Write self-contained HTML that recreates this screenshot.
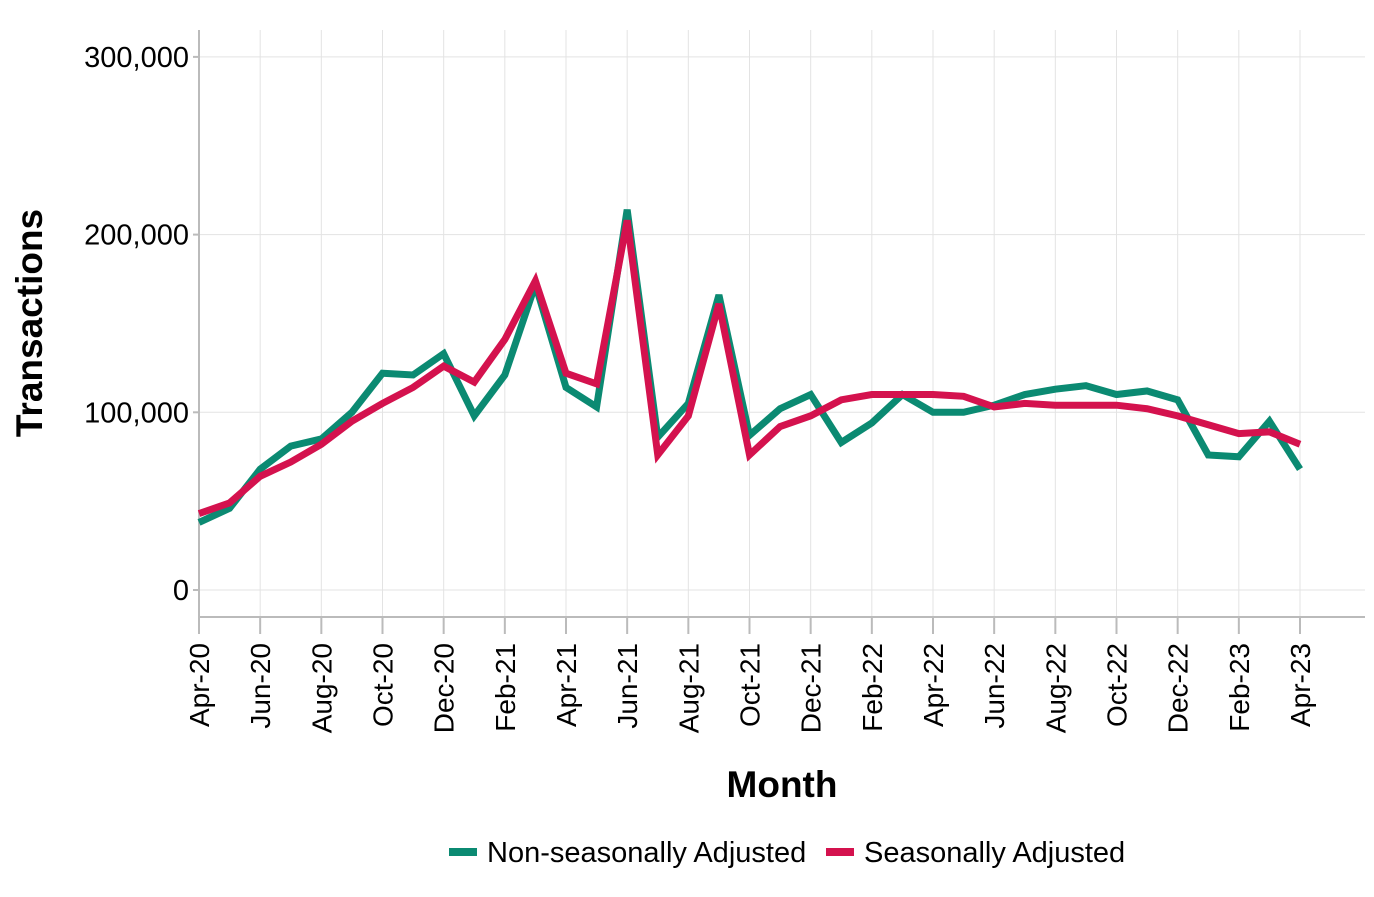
<!DOCTYPE html>
<html><head><meta charset="utf-8"><style>
body{margin:0;background:#fff;font-family:"Liberation Sans",Arial,sans-serif}
svg text{font-family:"Liberation Sans",Arial,sans-serif}
</style></head><body>
<svg id="chart" width="1374" height="892" viewBox="0 0 1374 892" xmlns="http://www.w3.org/2000/svg">
<g id="grid"></g>
<g id="axes"></g>
<g id="series"></g>
<text x="42" y="323" transform="rotate(-90 42 323)" text-anchor="middle" font-size="37" font-weight="bold" fill="#000">Transactions</text>
<text x="782" y="797" text-anchor="middle" font-size="37" font-weight="bold" fill="#000">Month</text>
<g>
<rect x="449" y="848" width="28" height="8" fill="#0b8a72"/>
<text x="487" y="862" font-size="29" fill="#000">Non-seasonally Adjusted</text>
<rect x="826" y="848" width="28" height="8" fill="#d4124e"/>
<text x="864" y="862" font-size="29" fill="#000">Seasonally Adjusted</text>
</g>
</svg>
<script>
const months=["Apr-20","May-20","Jun-20","Jul-20","Aug-20","Sep-20","Oct-20","Nov-20","Dec-20","Jan-21","Feb-21","Mar-21","Apr-21","May-21","Jun-21","Jul-21","Aug-21","Sep-21","Oct-21","Nov-21","Dec-21","Jan-22","Feb-22","Mar-22","Apr-22","May-22","Jun-22","Jul-22","Aug-22","Sep-22","Oct-22","Nov-22","Dec-22","Jan-23","Feb-23","Mar-23","Apr-23"];
const nsaValues=[38000,46000,68000,81000,85000,100000,122000,121000,133000,98000,121000,172000,114000,103000,214000,86000,105000,166000,87000,102000,110000,83000,94000,110000,100000,100000,104000,110000,113000,115000,110000,112000,107000,76000,75000,95000,68000];
const saValues=[43000,49000,64000,72000,82000,95000,105000,114000,126000,117000,141000,174000,122000,116000,208000,76000,98000,161000,76000,92000,98000,107000,110000,110000,110000,109000,103000,105000,104000,104000,104000,102000,98000,93000,88000,89000,82000];
const yTicks=[0,100000,200000,300000];
const yTickLabels=["0","100,000","200,000","300,000"];

const NS="http://www.w3.org/2000/svg";
const x0=199,x1=1300,yZero=590,yPer=177.7/100000;
const xs=i=>x0+i*(x1-x0)/(months.length-1);
const ys=v=>yZero-v*yPer;
function mk(tag,attrs,parent){const e=document.createElementNS(NS,tag);for(const k in attrs)e.setAttribute(k,attrs[k]);parent.appendChild(e);return e;}
const grid=document.getElementById('grid'),axes=document.getElementById('axes'),series=document.getElementById('series');
yTicks.forEach((t,i)=>{
 const l=mk('line',{x1:x0,x2:1365,y1:ys(t),y2:ys(t),stroke:'#e3e3e3','stroke-width':1},grid);
 
 
 const tk=mk('line',{x1:x0-6,x2:x0,y1:ys(t),y2:ys(t),stroke:'#bbb','stroke-width':2},axes);
 
 
 const tx=mk('text',{x:x0-10,y:ys(t)+10,'text-anchor':'end','font-size':29,fill:'#000'},axes);
 tx.textContent=yTickLabels[i];
 
 
});
months.forEach((m,i)=>{
 if(i%2)return;
 const x=xs(i);
 const g=mk('line',{x1:x,x2:x,y1:30,y2:617,stroke:'#e3e3e3','stroke-width':1},grid);
 
 
 const tk=mk('line',{x1:x,x2:x,y1:617,y2:634,stroke:'#bbb','stroke-width':2},axes);
 
 
 const tx=mk('text',{x:x+10,y:643,'text-anchor':'end','font-size':28,fill:'#000',transform:`rotate(-90 ${x+10} 643)`},axes);
 tx.textContent=m;
 
 
});
const ya=mk('line',{x1:x0,x2:x0,y1:30,y2:617,stroke:'#bbb','stroke-width':2},axes);


const xa=mk('line',{x1:x0,x2:1365,y1:617,y2:617,stroke:'#bbb','stroke-width':2},axes);


function line(vals,color,name){
 const p=mk('polyline',{points:vals.map((v,i)=>xs(i)+','+ys(v)).join(' '),fill:'none',stroke:color,'stroke-width':7,'stroke-linejoin':'miter','stroke-miterlimit':3},series);
 
 
}
line(nsaValues,'#0b8a72','nsa-line');
line(saValues,'#d4124e','sa-line');
</script>
</body></html>
